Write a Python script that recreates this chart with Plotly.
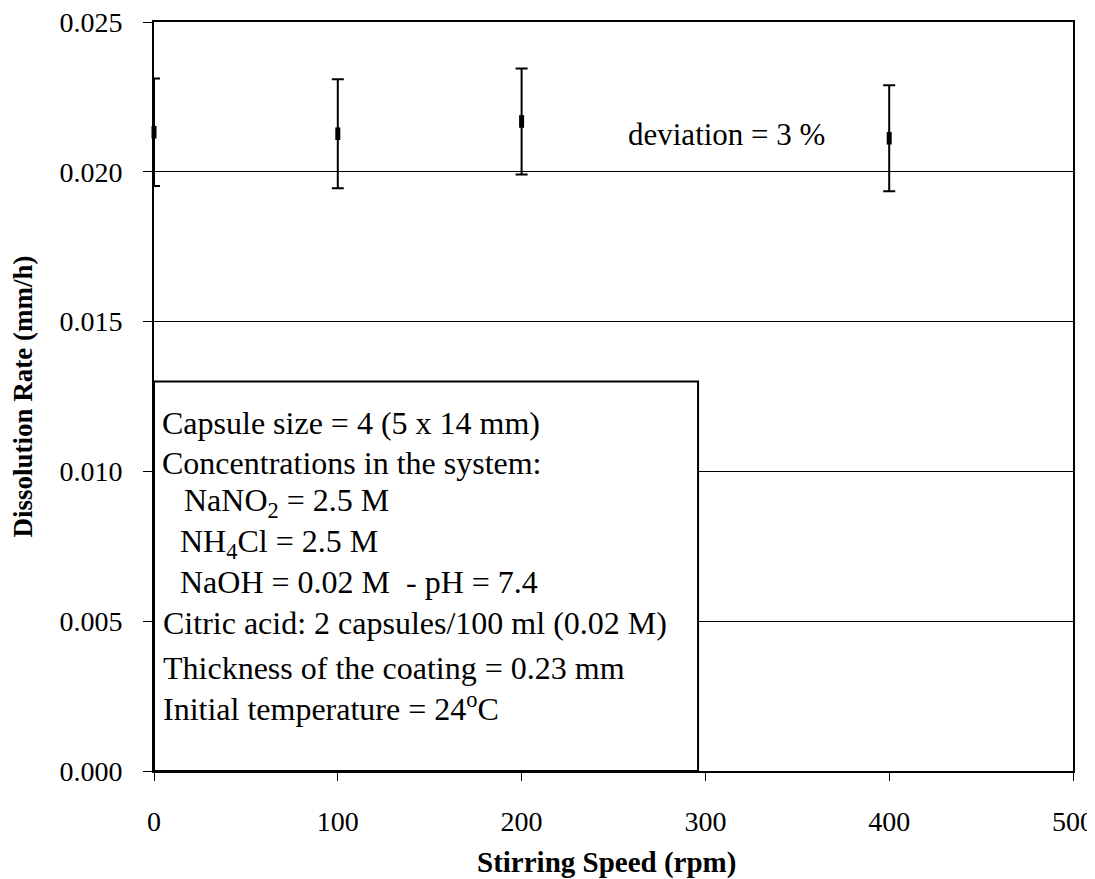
import plotly.graph_objects as go

# ---- data ----
speed_rpm = [0, 100, 200, 400]
dissolution_rate = [0.02132, 0.02127, 0.02168, 0.02112]
rate_error = [0.00179, 0.00182, 0.00177, 0.00177]
y_tick_vals = [0.000, 0.005, 0.010, 0.015, 0.020, 0.025]
y_tick_text = ["0.000", "0.005", "0.010", "0.015", "0.020", "0.025"]
x_tick_vals = [0, 100, 200, 300, 400, 500]
box_lines = [
    "Capsule size = 4 (5 x 14 mm)",
    "Concentrations in the system:",
    "NaNO<sub>2</sub> = 2.5 M",
    "NH<sub>4</sub>Cl = 2.5 M",
    "NaOH = 0.02 M  - pH = 7.4",
    "Citric acid: 2 capsules/100 ml (0.02 M)",
    "Thickness of the coating = 0.23 mm",
    "Initial temperature = 24<sup>o</sup>C",
]
deviation_text = "deviation = 3 %"

# ---- layout positions (not data) ----
box_x_range = (0, 296)
box_y_top = 0.013
box_line_y = [0.01162, 0.01028, 0.00895, 0.00761, 0.00631, 0.00494, 0.00344, 0.00214]
box_line_x = [3.5, 3.5, 15, 13, 13, 4, 4, 4]

FONT = "Liberation Serif, Times New Roman, serif"

fig = go.Figure()

fig.add_shape(type="rect", xref="x", yref="y",
              x0=box_x_range[0], x1=box_x_range[1], y0=0, y1=box_y_top,
              fillcolor="white", line=dict(color="black", width=2), layer="above")

fig.add_trace(go.Scatter(
    x=speed_rpm, y=dissolution_rate, mode="markers",
    marker=dict(symbol="line-ns-open", size=9, color="black",
                line=dict(color="black", width=5)),
    error_y=dict(type="data", array=rate_error, visible=True,
                 color="black", thickness=2, width=6),
    showlegend=False, cliponaxis=False,
))

for txt, yy, xx in zip(box_lines, box_line_y, box_line_x):
    fig.add_annotation(x=xx, y=yy, xref="x", yref="y", text=txt,
                       showarrow=False, xanchor="left", yanchor="middle",
                       font=dict(family=FONT, size=32, color="black"))

fig.add_annotation(x=257, y=0.02126, xref="x", yref="y", text=deviation_text,
                   showarrow=False, xanchor="left", yanchor="middle",
                   font=dict(family=FONT, size=31, color="black"))

fig.add_annotation(x=246, y=-0.1228, xref="x", yref="paper",
                   text="<b>Stirring Speed (rpm)</b>", showarrow=False,
                   xanchor="center", yanchor="middle",
                   font=dict(family=FONT, size=29, color="black"))
fig.add_annotation(x=-0.1436, y=0.5, xref="paper", yref="paper",
                   text="<b>Dissolution Rate (mm/h)</b>", showarrow=False,
                   textangle=-90, xanchor="center", yanchor="middle",
                   font=dict(family=FONT, size=27, color="black"))

# page body adds an 8px margin, so the figure is offset by 8px
fig.update_layout(
    width=1087, height=871,
    margin=dict(l=146, r=22, t=14, b=108),
    paper_bgcolor="white", plot_bgcolor="white",
    font=dict(family=FONT, size=28, color="black"),
    showlegend=False,
)
fig.update_xaxes(range=[0, 500], tickvals=x_tick_vals, automargin=False,
                 ticklabeloverflow="allow",
                 showgrid=False, zeroline=False,
                 showline=True, linecolor="black", linewidth=1.5, mirror=True,
                 ticks="outside", ticklen=8, tickcolor="black", tickwidth=1,
                 ticklabelstandoff=17,
                 tickfont=dict(family=FONT, size=28, color="black"))
fig.update_yaxes(range=[0, 0.025], tickvals=y_tick_vals, ticktext=y_tick_text,
                 automargin=False, ticklabeloverflow="allow",
                 showgrid=True, gridcolor="black", gridwidth=1, zeroline=False,
                 showline=True, linecolor="black", linewidth=2, mirror=True,
                 ticks="outside", ticklen=9, tickcolor="black", tickwidth=1,
                 ticklabelstandoff=15,
                 tickfont=dict(family=FONT, size=28, color="black"))

fig.write_html("out.html")
